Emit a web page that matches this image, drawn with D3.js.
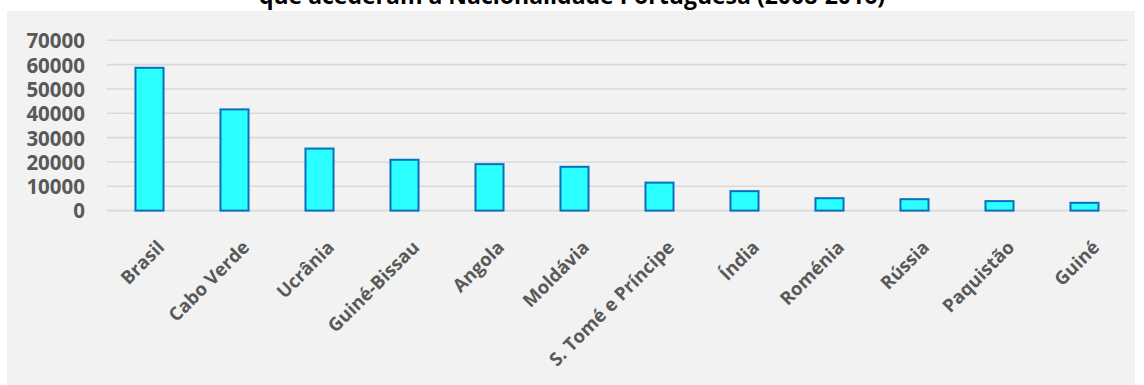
<!DOCTYPE html>
<html><head><meta charset="utf-8">
<script src="https://cdn.jsdelivr.net/npm/d3@7"></script>
<style>body{margin:0;background:#fff;}svg{display:block;}</style>
</head><body><svg id="c" width="1144" height="385"></svg>
<script>
const categories = ["Brasil","Cabo Verde","Ucrânia","Guiné-Bissau","Angola","Moldávia","S. Tomé e Príncipe","Índia","Roménia","Rússia","Paquistão","Guiné"];
const values = [58700,41600,25500,20900,19100,18000,11500,8000,5100,4700,3900,3200];
const yTicks = [0,10000,20000,30000,40000,50000,60000,70000];
const titleText = "que acederam à Nacionalidade Portuguesa (2008-2016)";

const svg = d3.select("#c");
svg.append("rect").attr("x",7).attr("y",11).attr("width",1128).attr("height",374).attr("fill","#f2f2f2");

const x = d3.scaleBand().domain(categories).range([107,1127]).paddingInner(0.67).paddingOuter(0.335);
const y = d3.scaleLinear().domain([0,70000]).range([210.6,40.3]);

// gridlines
svg.append("g").selectAll("line").data(yTicks).join("line")
  .attr("x1",107).attr("x2",1127).attr("y1",d=>y(d)).attr("y2",d=>y(d))
  .attr("stroke","#d9d9d9").attr("stroke-width",1.6);

// y axis labels
const yAxis = d3.axisLeft(y).tickValues(yTicks).tickSize(0).tickPadding(0).tickFormat(d3.format("d"));
const gy = svg.append("g").attr("transform","translate(85,0)").call(yAxis);
gy.select(".domain").remove();
gy.selectAll("text").attr("font-family","'Open Sans', sans-serif").attr("font-weight","bold")
  .attr("font-size",20.5).attr("fill","#595959").attr("dy","0.36em");

// bars
svg.append("g").selectAll("rect").data(values).join("rect")
  .attr("x",(d,i)=>x(categories[i])).attr("width",x.bandwidth())
  .attr("y",d=>y(d)).attr("height",d=>y(0)-y(d))
  .attr("fill","#2bffff").attr("stroke","#0a6fc0").attr("stroke-width",2);

// x axis labels
const xAxis = d3.axisBottom(x).tickSize(0).tickPadding(0);
const gx = svg.append("g").attr("transform","translate(0,"+y(0)+")").call(xAxis);
gx.select(".domain").remove();
gx.selectAll("text").attr("font-family","'Open Sans', sans-serif").attr("font-weight","bold")
  .attr("font-size",18.5).attr("fill","#595959")
  .attr("text-anchor","end").attr("dy",null).attr("y",null)
  .attr("transform","translate(16,38) rotate(-45)");

svg.append("text").attr("x",572).attr("y",4).attr("text-anchor","middle")
  .attr("font-family","'Open Sans', sans-serif").attr("font-weight","bold").attr("font-size",23)
  .attr("fill","#000").text(titleText);
</script></body></html>
